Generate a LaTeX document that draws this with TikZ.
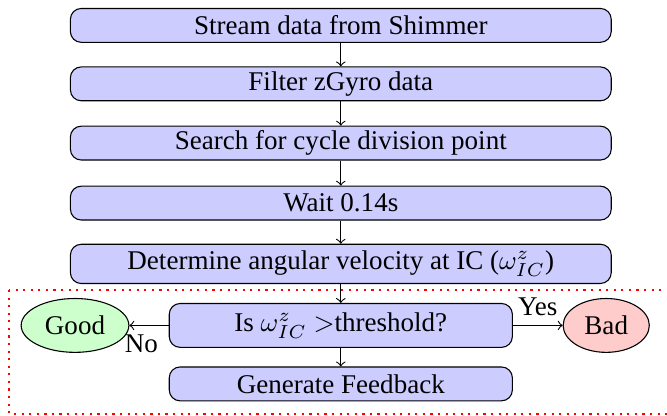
\documentclass[tikz,border=0pt]{standalone}
\usepackage{fontspec}
\setmainfont{Liberation Serif}
\usetikzlibrary{shapes,arrows,positioning,calc}

\begin{document}
\begin{tikzpicture}[
    block/.style={rectangle, draw, fill=blue!20, rounded corners, text centered,
                  minimum width=7.03cm, minimum height=0.44cm, inner sep=1pt},
    smallblock/.style={block, minimum width=4.46cm},
    result/.style={ellipse, draw, minimum height=0.70cm, inner sep=1pt},
    line/.style={draw, ->}
]
    \useasboundingbox (0,0) rectangle (8.67,-5.40);

    % Steps
    \node[block] (stream) at (4.43,-0.33) {Stream data from Shimmer};
    \node[block] (filter) at (4.43,-1.09) {Filter zGyro data};
    \node[block] (search) at (4.43,-1.86) {Search for cycle division point};
    \node[block] (wait) at (4.43,-2.64) {Wait 0.14s};
    \node[block, minimum height=0.51cm] (omega) at (4.43,-3.43)
        {Determine angular velocity at IC ($\omega_{IC}^{z}$)};

    % Decision
    \node[smallblock, minimum height=0.57cm] (check) at (4.43,-4.23)
        {Is $\omega_{IC}^{z}$ $>$threshold?};
    \node[smallblock] (feedback) at (4.43,-4.99) {Generate Feedback};
    \node[result, fill=green!20, minimum width=1.40cm] (good) at (0.975,-4.23) {Good};
    \node[result, fill=red!20, minimum width=1.12cm] (bad) at (7.88,-4.23) {Bad};

    % Arrows
    \path[line] (stream) -- (filter);
    \path[line] (filter) -- (search);
    \path[line] (search) -- (wait);
    \path[line] (wait) -- (omega);
    \path[line] (omega) -- (check);
    \path[line] (check) -- (feedback);
    \path[line] (check) -- node[below, xshift=-0.1cm] {No} (good);
    \path[line] (check) -- node[above] {Yes} (bad);

    % Feedback loop region
    \draw[red, thick, dotted] (0.12,-3.77) rectangle (8.80,-5.38);
\end{tikzpicture}
\end{document}
